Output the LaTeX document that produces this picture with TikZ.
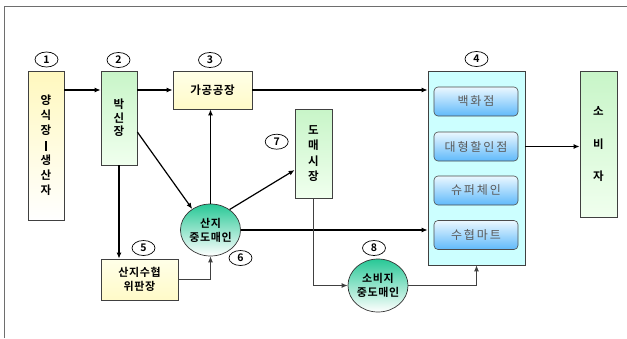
\documentclass[tikz,border=0pt]{standalone}
\usepackage{fontspec}
\setmainfont{Noto Sans CJK KR}[BoldFont={Noto Sans CJK KR Bold}]
\newfontfamily\krsp{Noto Sans CJK KR}[LetterSpace=16]
\newfontfamily\krbs{Noto Sans CJK KR}[LetterSpace=6,BoldFont={Noto Sans CJK KR Bold}]
\usetikzlibrary{shapes.geometric,arrows.meta}
\definecolor{frame}{RGB}{110,110,110}
\definecolor{cyanbox}{RGB}{204,255,255}
\definecolor{greentop}{RGB}{200,245,200}
\definecolor{greenbot}{RGB}{240,255,238}
\definecolor{yeltop}{RGB}{255,248,190}
\definecolor{yelA}{RGB}{255,255,232}
\definecolor{yelB}{RGB}{255,250,200}
\definecolor{tealtop}{RGB}{40,200,150}
\definecolor{bluetop}{RGB}{235,248,255}
\definecolor{bluebot}{RGB}{95,185,250}
\definecolor{graytext}{RGB}{90,90,90}
\tikzset{
  box/.style={draw=black!75, line width=0.7pt, inner sep=0pt, align=center, font=\bfseries\fontsize{11.5}{15}\selectfont},
  greenbox/.style={box, top color=greentop, bottom color=greenbot},
  yelbox/.style={box, top color=yelA, bottom color=yelB},
  inbox/.style={draw=black!70, line width=0.6pt, rounded corners=4pt, minimum width=84pt, minimum height=29pt, inner sep=0pt, top color=bluetop, bottom color=bluebot, text=graytext, font=\krsp\fontsize{12}{13}\selectfont},
  dealer/.style={ellipse, draw=black!80, line width=0.7pt, inner sep=0pt, align=center, top color=tealtop, bottom color=white, font=\krbs\bfseries\fontsize{11}{14}\selectfont},
  num/.style={ellipse, draw=black, line width=0.7pt, fill=white, minimum width=23pt, minimum height=15pt, inner sep=0pt, font=\bfseries\fontsize{10.5}{11}\selectfont},
  arr/.style={-{Latex[length=6pt,width=5pt]}, line width=1.2pt, black},
  thinarr/.style={-{Latex[length=6pt,width=5pt]}, line width=0.9pt, black!75}
}
\begin{document}
\begin{tikzpicture}[x=1pt,y=-1pt]
\useasboundingbox (0,0) rectangle (627,338);
\draw[frame, line width=1.3pt] (4.5,338) -- (4.5,6.5) -- (627,6.5);

% boxes
\node[box, top color=yeltop, bottom color=white, minimum width=36pt, minimum height=149pt] (b1) at (46,145.5)
  {양\\식\\장\\\rule[-1pt]{1.6pt}{10pt}\\생\\산\\자};
\node[greenbox, minimum width=36pt, minimum height=94pt, font=\bfseries\fontsize{11.5}{13.5}\selectfont] (b2) at (119,118) {박\\신\\장};
\node[yelbox, minimum width=79pt, minimum height=38pt, font=\krbs\bfseries\fontsize{11.5}{12}\selectfont] (b3) at (212.5,90) {가공공장};
\node[box, fill=cyanbox, minimum width=97pt, minimum height=194pt] (b4) at (476.5,168) {};
\node[inbox] (s1) at (476,101.5) {백화점};
\node[inbox] (s2) at (476,146.5) {대형할인점};
\node[inbox] (s3) at (476,190.5) {슈퍼체인};
\node[inbox] (s4) at (476,235) {수협마트};
\node[greenbox, minimum width=37pt, minimum height=146pt, font=\bfseries\fontsize{11.5}{32.5}\selectfont] (b9) at (598.5,144) {소\\비\\자};
\node[greenbox, minimum width=37pt, minimum height=89pt, font=\bfseries\fontsize{11.5}{15.5}\selectfont] (b7) at (313.5,153.5) {도\\매\\시\\장};
\node[yelbox, minimum width=77pt, minimum height=41pt, font=\krbs\bfseries\fontsize{11}{14}\selectfont] (b5) at (139.5,279.5) {산지수협\\위판장};
\node[dealer, minimum width=60pt, minimum height=52pt] (m6) at (210.5,230) {산지\\중도매인};
\node[dealer, minimum width=58pt, minimum height=53pt] (m8) at (378,285.5) {소비지\\중도매인};

% numbers
\node[num] (n1) at (46.5,59.5) {1};
\node[num] (n2) at (118.5,60) {2};
\node[num] (n3) at (210,60) {3};
\node[num] (n4) at (476.5,59) {4};
\node[num] (n5) at (143.5,248) {5};
\node[num] (n6) at (240.5,258) {6};
\node[num] (n7) at (276.7,141.7) {7};
\node[num] (n8) at (374,248) {8};

% connectors
\draw[arr] (b1.east |- b3) -- (b2.west |- b3);
\draw[arr] (b2.east |- b3) -- (b3.west);
\draw[arr] (b3.east) -- (b4.west |- b3);
\draw[arr] (b4.east |- s2) -- (b9.west |- s2);
\draw[arr] ([yshift=-14pt]b2.east) -- (m6.131);
\draw[arr] (b2.south) -- (b2.south |- b5.north);
\draw[arr] (m6.north) -- (m6.north |- b3.south);
\draw[arr] (m6.47) -- ([yshift=-16.5pt]b7.west);
\draw[arr] (m6.east) -- (m6.east -| b4.west);
\draw[thinarr] (b5.east) -| (m6.south);
\draw[thinarr] (b7.south) |- (m8.west);
\draw[thinarr] (m8.east) -| (b4.south);
\end{tikzpicture}
\end{document}
